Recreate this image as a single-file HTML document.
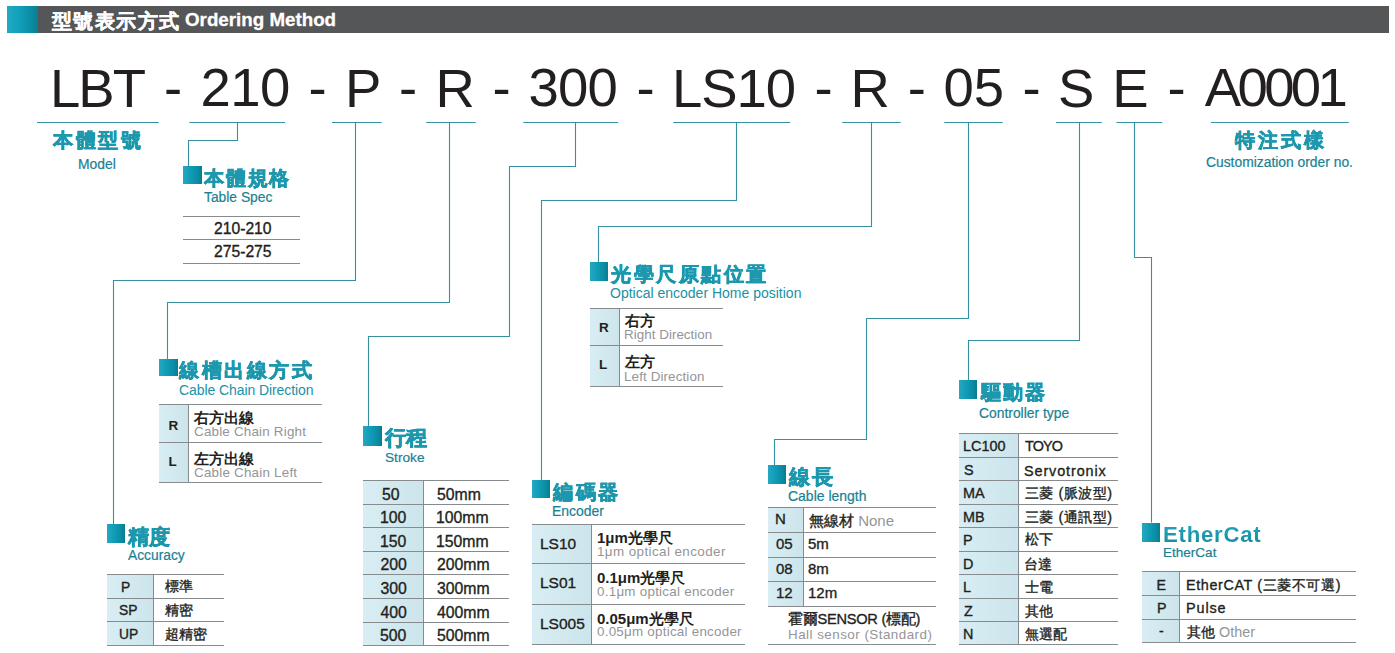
<!DOCTYPE html>
<html><head><meta charset="utf-8"><style>
*{margin:0;padding:0;box-sizing:border-box}
html,body{width:1395px;height:653px;background:#fff;overflow:hidden}
body{position:relative;font-family:"Liberation Sans",sans-serif}
.a{position:absolute;white-space:nowrap;line-height:1}
.hdr{color:#fff;font-weight:bold;-webkit-text-stroke:0.3px #fff}
.big{color:#231f20}
.h{font-weight:bold;background:linear-gradient(180deg,#23a5be,#168a9c);-webkit-background-clip:text;background-clip:text;color:transparent;-webkit-text-stroke:0.35px #1c97ae}
.he{font-weight:bold;background:linear-gradient(180deg,#23a5be,#168a9c);-webkit-background-clip:text;background-clip:text;color:transparent}
.sub{color:#1a8193;-webkit-text-stroke:0.2px #1a8193}
.subg{color:#2191a6}
.td{color:#231f20;-webkit-text-stroke:0.35px #231f20}
.tdb{color:#231f20;font-weight:bold}
.tdc{color:#231f20;font-weight:bold}
.tdg{color:#949597}
.g{color:#949597;-webkit-text-stroke:0}
.sq{position:absolute;background:linear-gradient(90deg,#25a8c2 0%,#109cb6 40%,#0b8da5 75%,#0a7d8f 100%)}
.hl{position:absolute;height:1px;background:#888b8e}
.vl{position:absolute;width:1px;background:#888b8e}
.bg{position:absolute;background:linear-gradient(90deg,#d8eef4,#cce4eb)}
</style></head><body>
<div style="position:absolute;left:7px;top:6px;width:1382px;height:27px;background:#555658"></div>
<div style="position:absolute;left:7px;top:6px;width:31px;height:27px;background:linear-gradient(90deg,#22a9c4 0%,#10a0ba 40%,#0b8da4 75%,#0a7f90 100%)"></div>
<div class="sq" style="left:183.2px;top:166.0px;width:18.4px;height:17.7px"></div>
<div class="sq" style="left:159.0px;top:359.4px;width:18.6px;height:16.8px"></div>
<div class="sq" style="left:107.2px;top:524.1px;width:17.6px;height:18.6px"></div>
<div class="sq" style="left:362.9px;top:426.4px;width:18.9px;height:19.3px"></div>
<div class="sq" style="left:590.2px;top:262.1px;width:18.1px;height:18.5px"></div>
<div class="sq" style="left:531.8px;top:480.1px;width:18.6px;height:18.3px"></div>
<div class="sq" style="left:767.5px;top:465.2px;width:18.1px;height:18.5px"></div>
<div class="sq" style="left:959.1px;top:380.3px;width:17.5px;height:18.7px"></div>
<div class="sq" style="left:1142.2px;top:523.0px;width:17.6px;height:18.7px"></div>
<div class="hl" style="left:183.2px;top:215.5px;width:116.8px;height:1.3px"></div>
<div class="hl" style="left:183.2px;top:239.0px;width:116.8px;height:1.0px"></div>
<div class="hl" style="left:183.2px;top:262.5px;width:116.8px;height:1.0px"></div>
<div class="bg" style="left:159.0px;top:404.5px;width:29.6px;height:78.1px"></div>
<div class="vl" style="left:188.0px;top:404.5px;height:78.1px"></div>
<div class="hl" style="left:159.0px;top:404.0px;width:163.1px;height:1.3px"></div>
<div class="hl" style="left:159.0px;top:442.0px;width:163.1px;height:1.0px"></div>
<div class="hl" style="left:159.0px;top:482.0px;width:163.1px;height:1.0px"></div>
<div class="bg" style="left:107.2px;top:574.5px;width:46.4px;height:70.8px"></div>
<div class="vl" style="left:153.0px;top:574.5px;height:70.8px"></div>
<div class="hl" style="left:107.2px;top:574.0px;width:116.8px;height:1.3px"></div>
<div class="hl" style="left:107.2px;top:597.5px;width:116.8px;height:1.0px"></div>
<div class="hl" style="left:107.2px;top:621.0px;width:116.8px;height:1.0px"></div>
<div class="hl" style="left:107.2px;top:645.0px;width:116.8px;height:1.0px"></div>
<div class="bg" style="left:362.9px;top:480.0px;width:60.7px;height:165.7px"></div>
<div class="vl" style="left:423.0px;top:480.0px;height:165.7px"></div>
<div class="hl" style="left:362.9px;top:479.5px;width:146.4px;height:1.3px"></div>
<div class="hl" style="left:362.9px;top:503.5px;width:146.4px;height:1.0px"></div>
<div class="hl" style="left:362.9px;top:526.5px;width:146.4px;height:1.0px"></div>
<div class="hl" style="left:362.9px;top:550.5px;width:146.4px;height:1.0px"></div>
<div class="hl" style="left:362.9px;top:574.0px;width:146.4px;height:1.0px"></div>
<div class="hl" style="left:362.9px;top:598.0px;width:146.4px;height:1.0px"></div>
<div class="hl" style="left:362.9px;top:621.5px;width:146.4px;height:1.0px"></div>
<div class="hl" style="left:362.9px;top:645.0px;width:146.4px;height:1.0px"></div>
<div class="bg" style="left:590.0px;top:308.0px;width:29.5px;height:78.1px"></div>
<div class="vl" style="left:619.0px;top:308.0px;height:78.1px"></div>
<div class="hl" style="left:590.0px;top:307.5px;width:132.7px;height:1.3px"></div>
<div class="hl" style="left:590.0px;top:345.0px;width:132.7px;height:1.0px"></div>
<div class="hl" style="left:590.0px;top:385.5px;width:132.7px;height:1.0px"></div>
<div class="bg" style="left:531.8px;top:524.4px;width:59.2px;height:119.8px"></div>
<div class="vl" style="left:590.5px;top:524.4px;height:119.8px"></div>
<div class="hl" style="left:531.8px;top:524.0px;width:212.8px;height:1.3px"></div>
<div class="hl" style="left:531.8px;top:563.0px;width:212.8px;height:1.0px"></div>
<div class="hl" style="left:531.8px;top:603.5px;width:212.8px;height:1.0px"></div>
<div class="hl" style="left:531.8px;top:643.5px;width:212.8px;height:1.0px"></div>
<div class="bg" style="left:767.5px;top:507.2px;width:35.9px;height:98.8px"></div>
<div class="vl" style="left:803.0px;top:507.2px;height:98.8px"></div>
<div class="hl" style="left:767.5px;top:506.5px;width:168.5px;height:1.3px"></div>
<div class="hl" style="left:767.5px;top:531.5px;width:168.5px;height:1.0px"></div>
<div class="hl" style="left:767.5px;top:556.5px;width:168.5px;height:1.0px"></div>
<div class="hl" style="left:767.5px;top:581.0px;width:168.5px;height:1.0px"></div>
<div class="hl" style="left:767.5px;top:605.5px;width:168.5px;height:1.0px"></div>
<div class="hl" style="left:767.5px;top:644.0px;width:168.5px;height:1.0px"></div>
<div class="bg" style="left:958.7px;top:433.4px;width:60.0px;height:211.2px"></div>
<div class="vl" style="left:1018.0px;top:433.4px;height:211.2px"></div>
<div class="hl" style="left:958.7px;top:433.0px;width:159.8px;height:1.3px"></div>
<div class="hl" style="left:958.7px;top:457.0px;width:159.8px;height:1.0px"></div>
<div class="hl" style="left:958.7px;top:480.0px;width:159.8px;height:1.0px"></div>
<div class="hl" style="left:958.7px;top:504.0px;width:159.8px;height:1.0px"></div>
<div class="hl" style="left:958.7px;top:527.0px;width:159.8px;height:1.0px"></div>
<div class="hl" style="left:958.7px;top:551.0px;width:159.8px;height:1.0px"></div>
<div class="hl" style="left:958.7px;top:574.0px;width:159.8px;height:1.0px"></div>
<div class="hl" style="left:958.7px;top:598.0px;width:159.8px;height:1.0px"></div>
<div class="hl" style="left:958.7px;top:621.0px;width:159.8px;height:1.0px"></div>
<div class="hl" style="left:958.7px;top:644.0px;width:159.8px;height:1.0px"></div>
<div class="bg" style="left:1142.2px;top:571.2px;width:37.0px;height:70.9px"></div>
<div class="vl" style="left:1178.5px;top:571.2px;height:70.9px"></div>
<div class="hl" style="left:1142.2px;top:570.5px;width:214.0px;height:1.3px"></div>
<div class="hl" style="left:1142.2px;top:594.5px;width:214.0px;height:1.0px"></div>
<div class="hl" style="left:1142.2px;top:619.0px;width:214.0px;height:1.0px"></div>
<div class="hl" style="left:1142.2px;top:641.5px;width:214.0px;height:1.0px"></div>
<svg width="1395" height="653" style="position:absolute;left:0;top:0"><g fill="none" stroke="#3590a0" stroke-width="1.1"><path d="M37.0 122.5H158.7"/><path d="M189.4 122.5H285.0"/><path d="M332.0 122.5H381.6"/><path d="M426.2 122.5H475.7"/><path d="M523.4 122.5H618.2"/><path d="M673.2 122.5H790.2"/><path d="M842.2 122.5H900.6"/><path d="M944.3 122.5H1002.8"/><path d="M1055.9 122.5H1101.7"/><path d="M1116.5 122.5H1162.3"/><path d="M1211.0 122.5H1348.7"/><path d="M237.5 122.5 L237.5 140.5 L188.5 140.5 L188.5 166.5"/><path d="M355.5 122.5 L355.5 280.5 L113.5 280.5 L113.5 524.5"/><path d="M449.5 122.5 L449.5 302.5 L167.5 302.5 L167.5 359.5"/><path d="M575.5 122.5 L575.5 166.5 L509.5 166.5 L509.5 336.5 L368.5 336.5 L368.5 426.5"/><path d="M736.5 122.5 L736.5 200.5 L541.5 200.5 L541.5 480.5"/><path d="M871.5 122.5 L871.5 226.5 L598.5 226.5 L598.5 262.5"/><path d="M968.5 122.5 L968.5 318.5 L866.5 318.5 L866.5 439.5 L774.5 439.5 L774.5 465.5"/><path d="M1079.5 122.5 L1079.5 340.5 L968.5 340.5 L968.5 380.5"/><path d="M1134.5 122.5 L1134.5 257.5 L1151.5 257.5 L1151.5 522.5"/></g></svg>
<div class="a hdr" id="hdr_cjk" style="left:52.00px;top:11.40px;font-size:20.40px;letter-spacing:1.380px">型號表示方式</div>
<div class="a hdr" id="hdr_lat" style="left:185.00px;top:10.59px;font-size:18.75px">Ordering Method</div>
<div class="a big" id="big0" style="left:49.90px;top:61.91px;font-size:54.50px;letter-spacing:-1.900px">LBT</div>
<div class="a big" id="big1" style="left:164.10px;top:60.92px;font-size:54.50px">-</div>
<div class="a big" id="big2" style="left:200.60px;top:61.12px;font-size:54.50px;letter-spacing:-0.550px">210</div>
<div class="a big" id="big3" style="left:308.50px;top:60.92px;font-size:54.50px">-</div>
<div class="a big" id="big4" style="left:345.10px;top:61.91px;font-size:54.50px">P</div>
<div class="a big" id="big5" style="left:399.10px;top:60.92px;font-size:54.50px">-</div>
<div class="a big" id="big6" style="left:435.60px;top:61.91px;font-size:54.50px">R</div>
<div class="a big" id="big7" style="left:492.50px;top:60.92px;font-size:54.50px">-</div>
<div class="a big" id="big8" style="left:528.60px;top:61.12px;font-size:54.50px;letter-spacing:-0.900px">300</div>
<div class="a big" id="big9" style="left:636.50px;top:60.92px;font-size:54.50px">-</div>
<div class="a big" id="big10" style="left:672.10px;top:61.91px;font-size:54.50px;letter-spacing:-1.067px">LS10</div>
<div class="a big" id="big11" style="left:814.50px;top:60.92px;font-size:54.50px">-</div>
<div class="a big" id="big12" style="left:850.60px;top:61.91px;font-size:54.50px">R</div>
<div class="a big" id="big13" style="left:907.80px;top:60.92px;font-size:54.50px">-</div>
<div class="a big" id="big14" style="left:943.50px;top:61.12px;font-size:54.50px;letter-spacing:-0.100px">05</div>
<div class="a big" id="big15" style="left:1022.50px;top:60.92px;font-size:54.50px">-</div>
<div class="a big" id="big16" style="left:1057.90px;top:61.91px;font-size:54.50px">S</div>
<div class="a big" id="big17" style="left:1112.30px;top:61.91px;font-size:54.50px">E</div>
<div class="a big" id="big18" style="left:1167.50px;top:60.92px;font-size:54.50px">-</div>
<div class="a big" id="big19" style="left:1204.80px;top:61.12px;font-size:54.50px;letter-spacing:-3.650px">A0001</div>
<div class="a h" id="h_model" style="left:53.00px;top:131.14px;font-size:19.60px;letter-spacing:2.533px">本體型號</div>
<div class="a h" id="h_spec" style="left:204.00px;top:169.14px;font-size:19.60px;letter-spacing:1.799px">本體規格</div>
<div class="a h" id="h_cable" style="left:179.00px;top:361.14px;font-size:19.60px;letter-spacing:2.560px">線槽出線方式</div>
<div class="a h" id="h_acc" style="left:128.00px;top:527.14px;font-size:21.30px;letter-spacing:0.100px">精度</div>
<div class="a h" id="h_stroke" style="left:385.00px;top:428.14px;font-size:21.30px;letter-spacing:0.400px">行程</div>
<div class="a h" id="h_home" style="left:611.00px;top:265.14px;font-size:19.60px;letter-spacing:2.567px">光學尺原點位置</div>
<div class="a h" id="h_enc" style="left:553.00px;top:483.14px;font-size:19.60px;letter-spacing:2.700px">編碼器</div>
<div class="a h" id="h_len" style="left:789.00px;top:467.14px;font-size:21.30px;letter-spacing:1.500px">線長</div>
<div class="a h" id="h_ctrl" style="left:981.00px;top:383.14px;font-size:19.60px;letter-spacing:1.900px">驅動器</div>
<div class="a h" id="h_cust" style="left:1235.00px;top:131.14px;font-size:19.60px;letter-spacing:2.867px">特注式樣</div>
<div class="a he" id="h_ecat" style="left:1163.00px;top:524.11px;font-size:22.20px;letter-spacing:0.738px">EtherCat</div>
<div class="a sub" id="s_model" style="left:78.00px;top:158.31px;font-size:13.90px">Model</div>
<div class="a sub" id="s_spec" style="left:204.00px;top:191.31px;font-size:13.84px">Table Spec</div>
<div class="a subg" id="s_cable" style="left:179.00px;top:383.18px;font-size:14.00px;letter-spacing:-0.085px">Cable Chain Direction</div>
<div class="a sub" id="s_acc" style="left:128.00px;top:549.31px;font-size:13.80px">Accuracy</div>
<div class="a sub" id="s_stroke" style="left:385.00px;top:451.31px;font-size:13.68px">Stroke</div>
<div class="a subg" id="s_home" style="left:610.00px;top:286.18px;font-size:14.00px">Optical encoder Home position</div>
<div class="a sub" id="s_enc" style="left:552.00px;top:505.31px;font-size:13.96px">Encoder</div>
<div class="a sub" id="s_len" style="left:788.00px;top:490.31px;font-size:13.97px">Cable length</div>
<div class="a sub" id="s_ctrl" style="left:979.00px;top:407.31px;font-size:13.86px">Controller type</div>
<div class="a sub" id="s_ecat" style="left:1163.00px;top:546.31px;font-size:13.54px">EtherCat</div>
<div class="a sub" id="s_cust" style="left:1206.00px;top:156.31px;font-size:13.85px">Customization order no.</div>
<div class="a td" id="t1a" style="left:214.00px;top:220.96px;font-size:15.70px">210-210</div>
<div class="a td" id="t1b" style="left:214.00px;top:243.96px;font-size:15.70px">275-275</div>
<div class="a tdb" id="t2r" style="left:168.50px;top:419.37px;font-size:13.50px">R</div>
<div class="a tdc" id="t2a" style="left:194.00px;top:411.09px;font-size:14.92px">右方出線</div>
<div class="a tdg" id="t2ae" style="left:194.00px;top:425.26px;font-size:13.40px;letter-spacing:0.205px">Cable Chain Right</div>
<div class="a tdb" id="t2l" style="left:168.50px;top:455.38px;font-size:13.50px">L</div>
<div class="a tdc" id="t2b" style="left:194.00px;top:452.09px;font-size:14.92px">左方出線</div>
<div class="a tdg" id="t2be" style="left:194.00px;top:466.26px;font-size:13.40px;letter-spacing:0.222px">Cable Chain Left</div>
<div class="a td" id="t3a0" style="left:121.00px;top:581.21px;font-size:13.80px">P</div>
<div class="a td" id="t3b0" style="left:165.00px;top:579.14px;font-size:14.30px">標準</div>
<div class="a td" id="t3a1" style="left:119.00px;top:604.21px;font-size:13.80px">SP</div>
<div class="a td" id="t3b1" style="left:165.00px;top:603.14px;font-size:14.30px">精密</div>
<div class="a td" id="t3a2" style="left:119.00px;top:628.21px;font-size:13.80px">UP</div>
<div class="a td" id="t3b2" style="left:165.00px;top:627.14px;font-size:14.30px">超精密</div>
<div class="a td" id="t4a0" style="left:382.00px;top:486.95px;font-size:15.80px">50</div>
<div class="a td" id="t4b0" style="left:437.00px;top:486.95px;font-size:15.80px">50mm</div>
<div class="a td" id="t4a1" style="left:380.00px;top:509.95px;font-size:15.80px">100</div>
<div class="a td" id="t4b1" style="left:436.00px;top:509.95px;font-size:15.80px">100mm</div>
<div class="a td" id="t4a2" style="left:380.00px;top:533.95px;font-size:15.80px">150</div>
<div class="a td" id="t4b2" style="left:436.00px;top:533.95px;font-size:15.80px">150mm</div>
<div class="a td" id="t4a3" style="left:380.50px;top:556.95px;font-size:15.80px">200</div>
<div class="a td" id="t4b3" style="left:437.00px;top:556.95px;font-size:15.80px">200mm</div>
<div class="a td" id="t4a4" style="left:380.50px;top:580.95px;font-size:15.80px">300</div>
<div class="a td" id="t4b4" style="left:437.00px;top:580.95px;font-size:15.80px">300mm</div>
<div class="a td" id="t4a5" style="left:380.50px;top:604.95px;font-size:15.80px">400</div>
<div class="a td" id="t4b5" style="left:437.00px;top:604.95px;font-size:15.80px">400mm</div>
<div class="a td" id="t4a6" style="left:380.00px;top:627.95px;font-size:15.80px">500</div>
<div class="a td" id="t4b6" style="left:437.00px;top:627.95px;font-size:15.80px">500mm</div>
<div class="a tdb" id="t5r" style="left:599.00px;top:321.38px;font-size:13.50px">R</div>
<div class="a tdc" id="t5a" style="left:625.00px;top:314.09px;font-size:14.70px">右方</div>
<div class="a tdg" id="t5ae" style="left:624.00px;top:328.26px;font-size:13.40px;letter-spacing:0.034px">Right Direction</div>
<div class="a tdb" id="t5l" style="left:599.00px;top:358.38px;font-size:13.50px">L</div>
<div class="a tdc" id="t5b" style="left:625.00px;top:355.09px;font-size:14.70px">左方</div>
<div class="a tdg" id="t5be" style="left:624.00px;top:370.26px;font-size:13.40px;letter-spacing:0.118px">Left Direction</div>
<div class="a td" id="t6a0" style="left:540.00px;top:535.99px;font-size:15.50px">LS10</div>
<div class="a td" id="t6a1" style="left:540.00px;top:574.98px;font-size:15.50px">LS01</div>
<div class="a td" id="t6a2" style="left:540.00px;top:615.98px;font-size:15.50px">LS005</div>
<div class="a tdc" id="t6b0" style="left:597.00px;top:530.05px;font-size:15.00px">1μm光學尺</div>
<div class="a tdc" id="t6b1" style="left:597.00px;top:570.05px;font-size:15.00px">0.1μm光學尺</div>
<div class="a tdc" id="t6b2" style="left:597.00px;top:611.05px;font-size:15.00px">0.05μm光學尺</div>
<div class="a tdg" id="t6c0" style="left:597.00px;top:545.26px;font-size:13.40px;letter-spacing:0.417px">1μm optical encoder</div>
<div class="a tdg" id="t6c1" style="left:597.00px;top:585.26px;font-size:13.40px;letter-spacing:0.255px">0.1μm optical encoder</div>
<div class="a tdg" id="t6c2" style="left:597.00px;top:625.26px;font-size:13.40px;letter-spacing:0.242px">0.05μm optical encoder</div>
<div class="a td" id="t7a0" style="left:775.00px;top:511.05px;font-size:15.00px">N</div>
<div class="a td" id="t7b0" style="left:809.00px;top:513.05px;font-size:15.00px">無線材 <span class="g">None</span></div>
<div class="a td" id="t7a1" style="left:776.00px;top:536.05px;font-size:15.00px">05</div>
<div class="a td" id="t7b1" style="left:808.00px;top:536.05px;font-size:15.00px">5m</div>
<div class="a td" id="t7a2" style="left:776.00px;top:561.05px;font-size:15.00px">08</div>
<div class="a td" id="t7b2" style="left:808.00px;top:561.05px;font-size:15.00px">8m</div>
<div class="a td" id="t7a3" style="left:776.00px;top:585.05px;font-size:15.00px">12</div>
<div class="a td" id="t7b3" style="left:808.00px;top:585.05px;font-size:15.00px">12m</div>
<div class="a td" id="t7h" style="left:788.00px;top:612.05px;font-size:14.60px;letter-spacing:-0.250px">霍爾SENSOR (標配)</div>
<div class="a tdg" id="t7he" style="left:788.00px;top:628.26px;font-size:13.40px;letter-spacing:0.475px">Hall sensor (Standard)</div>
<div class="a td" id="t8a0" style="left:963.00px;top:439.13px;font-size:14.40px">LC100</div>
<div class="a td" id="t8b0" style="left:1025.00px;top:439.13px;font-size:14.40px;letter-spacing:-0.870px">TOYO</div>
<div class="a td" id="t8a1" style="left:964.00px;top:463.13px;font-size:14.40px">S</div>
<div class="a td" id="t8b1" style="left:1024.00px;top:464.13px;font-size:14.40px;letter-spacing:0.900px">Servotronix</div>
<div class="a td" id="t8a2" style="left:963.00px;top:486.13px;font-size:14.40px">MA</div>
<div class="a td" id="t8b2" style="left:1025.00px;top:486.13px;font-size:14.40px;letter-spacing:0.482px">三菱 (脈波型)</div>
<div class="a td" id="t8a3" style="left:963.00px;top:510.13px;font-size:14.40px">MB</div>
<div class="a td" id="t8b3" style="left:1025.00px;top:510.13px;font-size:14.40px;letter-spacing:0.482px">三菱 (通訊型)</div>
<div class="a td" id="t8a4" style="left:963.00px;top:533.13px;font-size:14.40px">P</div>
<div class="a td" id="t8b4" style="left:1025.00px;top:532.13px;font-size:14.40px">松下</div>
<div class="a td" id="t8a5" style="left:963.00px;top:557.13px;font-size:14.40px">D</div>
<div class="a td" id="t8b5" style="left:1024.00px;top:557.13px;font-size:14.40px">台達</div>
<div class="a td" id="t8a6" style="left:963.00px;top:580.13px;font-size:14.40px">L</div>
<div class="a td" id="t8b6" style="left:1025.00px;top:580.13px;font-size:14.40px">士電</div>
<div class="a td" id="t8a7" style="left:964.00px;top:604.13px;font-size:14.40px">Z</div>
<div class="a td" id="t8b7" style="left:1025.00px;top:604.13px;font-size:14.40px">其他</div>
<div class="a td" id="t8a8" style="left:963.00px;top:627.13px;font-size:14.40px">N</div>
<div class="a td" id="t8b8" style="left:1025.00px;top:627.13px;font-size:14.40px">無選配</div>
<div class="a td" id="t9a0" style="left:1156.50px;top:578.15px;font-size:14.20px">E</div>
<div class="a td" id="t9a1" style="left:1157.00px;top:601.15px;font-size:14.20px">P</div>
<div class="a td" id="t9a2" style="left:1159.00px;top:624.15px;font-size:14.20px">-</div>
<div class="a td" id="t9b0" style="left:1186.00px;top:578.13px;font-size:14.40px;letter-spacing:0.600px">EtherCAT (三菱不可選)</div>
<div class="a td" id="t9b1" style="left:1186.00px;top:601.13px;font-size:14.40px;letter-spacing:0.900px">Pulse</div>
<div class="a td" id="t9b2" style="left:1187.00px;top:625.13px;font-size:14.40px">其他 <span class="g">Other</span></div>
</body></html>
